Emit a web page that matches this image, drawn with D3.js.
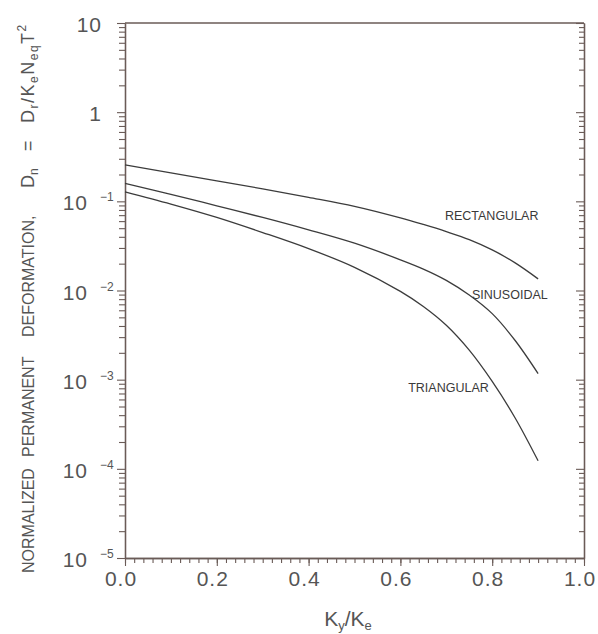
<!DOCTYPE html>
<meta charset="utf-8">
<script src="https://d3js.org/d3.v7.min.js"></script>
<style>
  body { margin: 0; background: #fff; }
  svg text { font-family: Arial, "Liberation Sans", sans-serif; }
</style>
<body>
<div id="chart"></div>
<script>

// values
var kRatio = [0, 0.1, 0.2, 0.3, 0.4, 0.5, 0.6, 0.65, 0.7, 0.75, 0.8, 0.85, 0.9];
var rectangular = [0.256, 0.209, 0.170, 0.138, 0.111, 0.088, 0.0653, 0.055, 0.0457, 0.0372, 0.0285, 0.0204, 0.0135];
var sinusoidal = [0.159, 0.120, 0.089, 0.066, 0.0479, 0.0339, 0.0221, 0.0174, 0.0130, 0.0089, 0.0055, 0.00275, 0.00117];
var triangular = [0.128, 0.0933, 0.0661, 0.0447, 0.0295, 0.0182, 0.00977, 0.00661, 0.00407, 0.00214, 0.000955, 0.000372, 0.000123];
var seriesNames = ["RECTANGULAR", "SINUSOIDAL", "TRIANGULAR"];

var xTickValues = [0, 0.2, 0.4, 0.6, 0.8, 1.0];
var xTickLabels = ["0.0", "0.2", "0.4", "0.6", "0.8", "1.0"];
var yDecades = [10, 1, 0.1, 0.01, 0.001, 0.0001, 0.00001];
var yTickBase = ["10", "1", "10", "10", "10", "10", "10"];
var yTickExp = ["", "", "\u22121", "\u22122", "\u22123", "\u22124", "\u22125"];

var W = 598, H = 634;
var margin = {top: 23, right: 14, bottom: 76, left: 125},
    width = W - margin.left - margin.right,
    height = H - margin.top - margin.bottom;

var axisColor = "#6a5b57", textColor = "#555", lineColor = "#3c3c3c";

var svg = d3.select("#chart").append("svg")
    .attr("width", W)
    .attr("height", H)
  .append("g")
    .attr("transform", "translate(" + margin.left + "," + margin.top + ")");

var x = d3.scaleLinear().domain([0, 1]).range([0, width]);
var y = d3.scaleLog().domain([1e-5, 10]).range([height, 0]);

// minor log ticks
var yMinor = [];
for (var e = -5; e < 1; e++) {
  for (var m = 2; m <= 9; m++) yMinor.push(m * Math.pow(10, e));
}
var xMinor = d3.range(0, 1.001, 0.02).map(function(d) { return +d.toFixed(2); });

function styleAxis(g) {
  g.select(".domain").attr("stroke", axisColor).attr("stroke-width", 1.3);
  g.selectAll(".tick line").attr("stroke", axisColor).attr("stroke-width", 1.1);
}

// frame top
svg.append("line")
  .attr("x1", 0).attr("x2", width).attr("y1", 0).attr("y2", 0)
  .attr("stroke", axisColor).attr("stroke-width", 1.3);

// left axis (ticks outward)
svg.append("g").call(d3.axisLeft(y).tickValues(yMinor).tickSize(6).tickFormat("").tickSizeOuter(0)).call(styleAxis);
svg.append("g").call(d3.axisLeft(y).tickValues(yDecades).tickSize(8).tickFormat("").tickSizeOuter(0)).call(styleAxis);

// right axis (ticks inward)
var right = svg.append("g").attr("transform", "translate(" + width + ",0)");
right.append("g").call(d3.axisLeft(y).tickValues(yMinor).tickSize(5).tickFormat("").tickSizeOuter(0)).call(styleAxis);
right.append("g").call(d3.axisLeft(y).tickValues(yDecades).tickSize(8).tickFormat("").tickSizeOuter(0)).call(styleAxis);

// bottom axis
var bottom = svg.append("g").attr("transform", "translate(0," + height + ")");
bottom.append("g").call(d3.axisBottom(x).tickValues(xMinor).tickSize(5).tickFormat("").tickSizeOuter(0)).call(styleAxis);
bottom.append("g").call(d3.axisBottom(x).tickValues(xTickValues).tickSize(8).tickFormat("").tickSizeOuter(0)).call(styleAxis);

// x tick labels
bottom.selectAll(".xlab")
  .data(xTickValues)
  .enter().append("text")
    .attr("class", "xlab")
    .attr("x", function(d) { return x(d) - 4; })
    .attr("y", 28)
    .attr("text-anchor", "middle")
    .attr("fill", textColor)
    .style("font-size", "21px")
    .style("letter-spacing", "1px")
    .text(function(d, i) { return xTickLabels[i]; });

// y tick labels, with exponents
var ylab = svg.selectAll(".ylab")
  .data(yDecades)
  .enter().append("g")
    .attr("class", "ylab")
    .attr("transform", function(d) { return "translate(0," + y(d) + ")"; });

ylab.append("text")
  .attr("x", function(d, i) { return yTickExp[i] ? -37 : -23; })
  .attr("y", 9)
  .attr("text-anchor", "end")
  .attr("fill", textColor)
  .style("font-size", "21px")
  .style("letter-spacing", "1px")
  .text(function(d, i) { return yTickBase[i]; });

ylab.append("text")
  .attr("x", -25)
  .attr("y", 0)
  .attr("fill", textColor)
  .style("font-size", "12px")
  .text(function(d, i) { return yTickExp[i]; });

// curves
var line = d3.line()
  .x(function(d) { return x(d[0]); })
  .y(function(d) { return y(d[1]); })
  .curve(d3.curveCatmullRom.alpha(0.5));

var series = [rectangular, sinusoidal, triangular];
series.forEach(function(vals) {
  svg.append("path")
    .datum(kRatio.map(function(k, i) { return [k, vals[i]]; }))
    .attr("fill", "none")
    .attr("stroke", lineColor)
    .attr("stroke-width", 1.3)
    .attr("d", line);
});

// curve labels
var labelPos = [[0.697, 0.0625], [0.756, 0.00813], [0.617, 0.000718]];
svg.selectAll(".clab")
  .data(seriesNames)
  .enter().append("text")
    .attr("class", "clab")
    .attr("x", function(d, i) { return x(labelPos[i][0]); })
    .attr("y", function(d, i) { return y(labelPos[i][1]); })
    .attr("fill", "#3a3a3a")
    .style("font-size", "12.5px")
    .text(function(d) { return d; });

// x title
var xt = svg.append("text")
  .attr("x", 348 - margin.left)
  .attr("y", 626 - margin.top)
  .attr("text-anchor", "middle")
  .attr("fill", textColor)
  .style("font-size", "21px");
xt.append("tspan").text("K");
xt.append("tspan").attr("dy", 4).style("font-size", "13px").text("y");
xt.append("tspan").attr("dy", -4).text("/K");
xt.append("tspan").attr("dy", 4).style("font-size", "13px").text("e");

// y title, rotated
var yt = svg.append("text")
  .attr("transform", "translate(" + (34 - margin.left) + "," + (-margin.top) + ") rotate(-90)")
  .attr("fill", textColor)
  .style("font-size", "16px");
yt.append("tspan").attr("x", -573).text("NORMALIZED");
yt.append("tspan").attr("x", -457).text("PERMANENT");
yt.append("tspan").attr("x", -337).text("DEFORMATION,");
yt.append("tspan").attr("x", -188).style("font-size", "18px").text("D");
yt.append("tspan").attr("dy", 4).style("font-size", "12px").text("n");
yt.append("tspan").attr("x", -151).attr("dy", -4).style("font-size", "18px").text("=");
var f = [["D", 0], ["r", 1], ["/K", 0], ["e", 1], ["N", 0], ["eq", 1], ["T", 0], ["2", 2]];
var prev = 0;
f.forEach(function(p, i) {
  var shift = p[1] === 1 ? 4 : (p[1] === 2 ? -8 : 0);
  var t = yt.append("tspan")
    .attr("dy", shift - prev)
    .style("font-size", p[1] ? "12px" : "18px")
    .style("letter-spacing", "1.5px")
    .text(p[0]);
  if (i === 0) t.attr("x", -123);
  prev = shift;
});

</script>
</body>
